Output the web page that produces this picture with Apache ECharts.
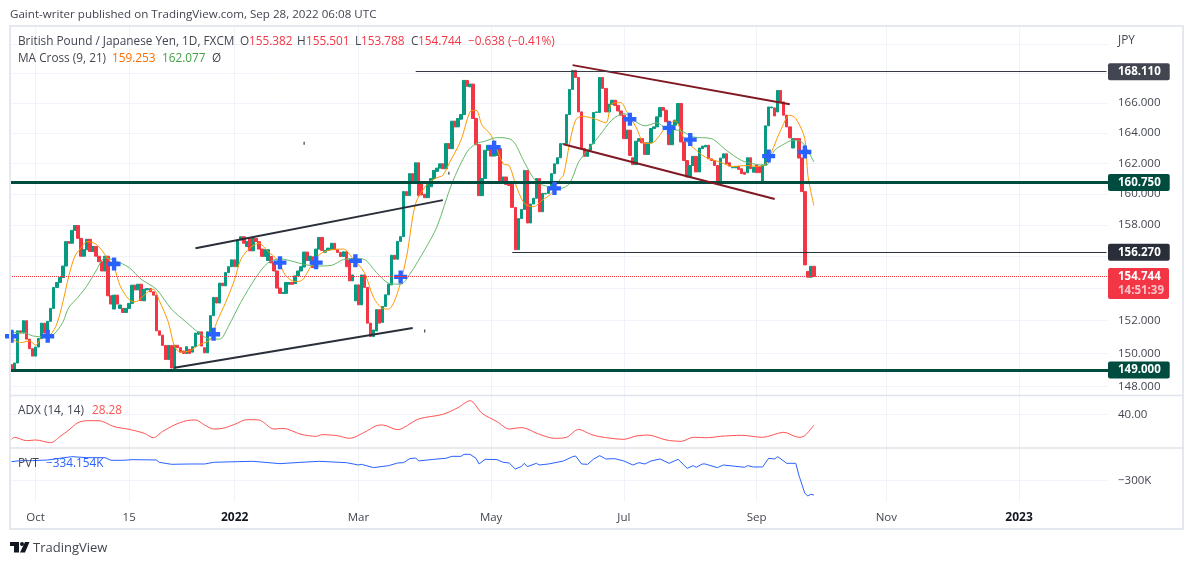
<!DOCTYPE html>
<html>
<head>
<meta charset="utf-8">
<style>html,body{margin:0;padding:0;background:#fff}#chart{width:1194px;height:565px}</style>
<script src="https://cdn.jsdelivr.net/npm/echarts@6/dist/echarts.min.js"></script>
</head>
<body>
<div id="chart"></div>
<script>
// candle bodies, one per trading day from 2021-09-21
var opens = [149.32,149.01,149.42,151.38,151.24,152.0,150.87,150.29,149.84,150.39,150.91,151.85,151.24,151.96,152.76,154.06,154.37,154.68,155.40,156.94,156.84,157.66,157.97,157.15,156.02,156.43,157.09,156.32,156.63,156.02,155.67,155.09,156.02,153.54,152.72,153.58,152.76,152.76,152.51,152.76,153.07,154.2,153.91,154.26,153.23,153.91,153.99,153.79,153.58,151.38,151.11,150.49,149.63,150.49,149.01,150.50,150.35,150.15,150.0,150.25,150.08,150.41,151.17,151.32,150.35,150.04,151.32,152.31,153.44,153.09,154.33,154.16,154.99,155.36,155.79,155.36,157.05,157.25,156.63,157.15,156.36,157.15,156.94,156.47,156.01,155.75,156.0,155.6,155.09,154.02,153.69,153.69,154.26,154.37,154.3,154.78,155.09,155.34,156.28,155.75,155.98,155.3,156.47,157.21,156.27,156.39,156.43,156.84,156.43,156.26,156.0,156.3,155.77,154.47,153.23,154.22,152.98,154.84,154.06,151.85,151.03,151.37,152.68,151.9,152.88,153.6,154.22,156.08,155.83,156.96,157.26,160.15,159.89,161.32,160.79,162.03,160.79,159.98,159.76,160.47,161.0,161.47,161.68,161.96,161.64,163.29,162.96,164.78,164.4,164.91,165.22,167.52,167.09,167.27,164.96,163.22,159.89,161.0,162.85,163.18,162.47,162.51,162.96,160.79,161.1,160.62,160.62,159.13,156.43,158.41,159.0,161.53,158.13,159.35,159.72,161.0,158.85,160.0,160.04,160.47,161.32,161.96,162.36,163.25,163.29,165.22,166.91,168.2,167.72,165.4,162.96,162.45,162.85,163.29,165.36,165.36,167.72,166.98,165.4,165.91,166.18,165.84,165.46,165.18,163.62,164.18,162.36,161.91,163.45,163.62,163.34,162.58,163.34,164.29,164.4,165.07,165.69,165.51,164.78,163.22,164.51,164.62,165.96,163.40,162.18,161.1,161.85,162.45,161.43,162.96,163.07,163.18,162.29,162.18,161.85,160.62,162.34,162.62,162.03,161.70,161.7,161.79,161.64,161.41,161.38,162.36,161.41,161.89,161.79,160.75,161.89,164.47,165.67,165.67,165.4,166.84,166.07,165.18,164.4,163.0,163.62,163.62,162.34,160.15,155.06,154.7,155.382];
var closes = [149.01,149.42,151.38,151.24,152.0,150.87,150.29,149.84,150.39,150.91,151.85,151.24,151.96,152.76,154.06,154.37,154.68,155.40,156.94,156.84,157.66,157.97,157.15,156.02,156.43,157.09,156.32,156.63,156.02,155.67,155.09,156.02,153.54,153.03,153.58,153.03,152.97,152.51,152.76,153.07,154.2,153.91,154.26,153.24,153.95,153.99,153.79,153.58,151.38,151.11,150.49,149.63,150.49,149.12,150.50,150.35,150.08,150.0,150.41,150.0,150.41,151.24,151.32,150.45,150.04,151.32,152.31,153.44,153.09,154.33,154.16,154.99,155.36,155.79,155.36,157.05,157.25,156.84,156.94,156.36,157.19,156.94,156.47,156.01,156.43,156.43,155.6,155.09,154.02,153.69,153.75,154.37,154.37,154.26,154.78,155.09,155.36,156.28,155.75,156.02,155.3,156.47,157.21,156.39,156.39,156.53,156.84,156.43,156.26,156.0,156.3,155.36,154.47,154.84,154.22,152.98,154.84,154.06,151.85,151.03,151.43,152.68,151.85,152.88,153.6,154.27,156.08,155.83,156.96,157.26,160.15,159.89,161.32,160.79,162.03,159.89,159.93,159.76,160.68,161.0,161.53,161.68,161.96,161.64,163.29,162.96,164.78,164.4,164.96,165.22,167.52,167.13,167.27,164.96,163.22,159.89,161.0,162.85,163.18,162.47,163.45,162.96,160.79,161.1,160.62,160.55,159.13,156.43,158.41,159.0,161.53,158.13,159.35,159.72,161.0,158.85,160.04,160.04,160.47,161.32,161.96,162.36,163.29,163.29,165.22,166.91,168.2,167.72,165.4,162.96,162.45,162.85,163.25,165.36,165.4,167.72,166.98,165.4,165.91,166.18,165.84,165.46,165.18,163.62,164.18,162.51,161.91,163.45,163.62,163.34,162.58,163.34,164.29,164.4,165.07,165.69,165.51,164.74,163.22,164.51,164.85,165.96,163.40,162.18,161.1,161.85,162.45,161.43,163.0,163.13,163.18,162.29,162.18,161.85,160.62,162.34,162.62,161.96,161.81,161.74,161.79,161.6,161.32,161.28,162.36,161.64,161.74,161.38,161.38,161.89,164.47,165.73,165.73,165.13,166.84,166.07,165.18,164.4,163.67,163.62,163.56,162.34,160.15,155.47,154.7,155.38,154.744];

// moving averages and indicators as [bar, value] read at their visible bends
var ma9 = [[0,150.87],[3,150.66],[6,150.76],[8,150.5],[10,150.97],[13,151.17],[15,151.79],[17,153.13],[19,154.78],[21,156.02],[23,156.53],[25,156.94],[28,156.78],[31,156.12],[34,155.3],[36,154.16],[39,153.3],[41,153.17],[45,153.75],[47,153.95],[49,153.24],[52,151.9],[54,150.45],[56,150.08],[59,150.15],[62,150.5],[66,150.87],[68,151.9],[71,153.13],[74,154.57],[76,155.81],[79,156.53],[82,156.84],[85,156.32],[88,155.81],[91,154.78],[94,154.43],[96,154.47],[99,155.3],[102,156.12],[106,156.43],[110,156.47],[113,155.91],[117,154.99],[120,153.44],[123,152.76],[125,152.72],[128,153.75],[131,156.02],[134,159.39],[138,160.68],[141,161.05],[143,161.21],[145,161.96],[149,163.51],[152,165.4],[154,165.51],[156,164.51],[159,163.84],[163,161.96],[165,161.85],[167,160.68],[170,159.39],[173,159.18],[176,159.6],[179,160.04],[182,161.0],[183,161.21],[185,163.29],[187,164.85],[189,165.11],[193,164.96],[197,164.67],[199,165.96],[202,166.02],[204,165.4],[207,164.4],[210,163.29],[213,163.40],[217,164.4],[220,164.8],[223,163.62],[227,162.85],[230,162.40],[235,162.07],[239,161.79],[244,161.85],[247,161.79],[250,161.96],[255,164.18],[258,165.18],[260,164.96],[263,163.62],[264,161.21],[266,159.253]];
var ma21 = [[0,151.28],[4,151.28],[7,151.07],[11,151.01],[14,151.17],[17,151.9],[19,152.82],[22,153.44],[25,154.16],[28,155.09],[31,155.91],[34,155.77],[39,155.3],[43,154.57],[48,153.95],[53,152.72],[58,151.9],[62,151.28],[66,150.87],[69,150.87],[72,151.69],[76,153.13],[81,154.68],[85,155.6],[89,155.85],[93,155.71],[97,155.5],[101,155.4],[106,155.44],[110,155.81],[114,155.87],[117,155.81],[121,154.99],[125,154.33],[129,154.26],[132,154.88],[137,156.43],[141,157.87],[146,160.68],[151,162.74],[154,163.29],[157,163.45],[161,163.69],[166,163.51],[170,162.07],[174,160.79],[178,160.47],[182,160.36],[185,160.68],[188,162.07],[191,162.85],[195,163.84],[199,164.85],[203,165.29],[207,164.74],[210,164.47],[214,164.67],[217,164.29],[222,164.13],[226,163.73],[232,163.62],[237,162.85],[242,162.18],[246,161.96],[250,161.85],[253,162.85],[256,163.25],[259,163.51],[262,163.40],[266,162.077]];
var adx = [[0,12.6],[1,14.8],[5,11.1],[8,11.9],[13,8.9],[16,15.5],[19,22.8],[22,30.8],[25,33.0],[29,33.0],[34,26.5],[39,23.5],[44,19.2],[47,14.4],[50,21.0],[54,28.3],[58,33.0],[61,33.8],[64,28.3],[67,23.9],[70,24.6],[74,29.0],[78,34.1],[82,33.8],[87,23.9],[90,24.6],[96,18.1],[101,15.9],[103,17.7],[108,16.6],[112,13.7],[117,20.3],[121,27.6],[123,28.3],[128,23.2],[130,25.4],[135,34.9],[143,39.97],[148,47.3],[152,54.9],[156,41.1],[161,31.9],[165,23.9],[169,25.4],[175,18.1],[180,13.7],[184,14.8],[188,23.5],[192,18.1],[195,15.5],[203,12.6],[207,16.2],[211,17.3],[217,11.9],[222,10.4],[226,14.8],[231,14.4],[235,15.9],[242,17.0],[249,14.8],[256,20.3],[261,14.8],[263,16.6],[266,28.28]];
var pvt = [[0,-254.5],[3,-252.1],[7,-252.1],[12,-250.5],[16,-246.5],[20,-242.6],[25,-245],[31,-245],[33,-251.3],[37,-251.3],[40,-249.7],[48,-250.5],[49,-256.1],[53,-260.9],[59,-260.1],[64,-260.1],[67,-256.1],[75,-254.5],[80,-253.7],[89,-259.3],[96,-256.1],[102,-253.7],[111,-256.9],[115,-262.5],[116,-260.9],[120,-268.8],[125,-264.1],[128,-257.7],[130,-256.9],[132,-247.3],[134,-245.7],[135,-252.9],[140,-248.9],[144,-246.5],[146,-241.8],[149,-241.8],[150,-237],[152,-237],[154,-246.5],[155,-260.1],[157,-248.9],[161,-249.7],[163,-256.1],[165,-257.7],[167,-272],[169,-266.4],[170,-258.5],[171,-266.4],[174,-258.5],[175,-262.5],[178,-260.1],[183,-252.9],[186,-242.6],[187,-241],[189,-260.1],[191,-260.9],[193,-248.1],[195,-240.2],[197,-248.1],[200,-247.3],[203,-252.9],[206,-262.5],[208,-256.9],[210,-260.1],[212,-252.9],[215,-248.1],[218,-258.5],[221,-248.9],[224,-270.4],[226,-264.1],[227,-268],[229,-260.1],[230,-260.1],[234,-268.8],[236,-262.5],[243,-268],[244,-264.1],[246,-267.2],[249,-267.2],[251,-246.5],[253,-248.1],[254,-242.6],[257,-258.5],[260,-258.5],[261,-286.3],[263,-330.1],[264,-336.5],[265,-332.5],[266,-334.154]];

// MA cross markers and the small stray marks
var crosses = [[0,151.05],[12,151.05],[34,155.53],[67,151.17],[89,155.61],[101,155.61],[114,155.73],[129,154.72],[160,163.05],[180,160.36],[205,164.91],[218,164.33],[225,163.56],[251,162.47],[263,162.74]];
var specks = [[97,163.31],[145,161.34],[137,151.37]];

// drawn lines
var channelUp = [[[61,156.52],[143,159.6]],[[54,149.13],[133,151.55]]];
var channelDown = [[[186,168.56],[258,165.91]],[[183,163.25],[253,159.67]]];
var partLevels = [[134,168.11,'#363a45'],[166,156.27,'#2a2e39']];
var supportLevels = [160.75,149];

// axes
var priceTicks = [148,150,152,154,156,158,160,162,164,166,168,170];
var priceLabels = [148,150,152,158,160,162,164,166];
var tickDates = ['2021-10-01','2021-11-15','2022-01-03','2022-03-01','2022-05-02','2022-07-01','2022-09-01','2022-11-01','2023-01-02'];
var tickLabels = ['Oct','15','2022','Mar','May','Jul','Sep','Nov','2023'];

var UP = '#089981', DOWN = '#f23645', GRID = '#f0f3fa', FONT = '"Open Sans","Noto Sans",sans-serif';
var BAND_COUNT = 364;

// weekdays from the first bar on, the axis runs on past the last bar
var days = [];
var d = new Date(Date.UTC(2021, 8, 21));
while (days.length < BAND_COUNT) {
    if (d.getUTCDay() != 0 && d.getUTCDay() != 6) days.push(d.toISOString().slice(0, 10));
    d.setUTCDate(d.getUTCDate() + 1);
}
var candles = opens.map(function(o, i) {
    return [o, closes[i], Math.min(o, closes[i]), Math.max(o, closes[i])];
});
function isTick(index, value) { return tickDates.indexOf(value) >= 0; }

function xAxis(gridIndex, withLabels) {
    return {
        type: 'category', gridIndex: gridIndex, data: days, boundaryGap: true,
        axisLine: {show: false},
        axisTick: {show: false, interval: isTick, alignWithLabel: true},
        splitLine: {show: true, interval: isTick, alignWithLabel: true, lineStyle: {color: GRID, width: 1}},
        axisLabel: {
            show: withLabels, interval: isTick, margin: 10, fontFamily: FONT, fontSize: 11.5, color: '#434651', hideOverlap: false,
            formatter: function(v) {
                var t = tickLabels[tickDates.indexOf(v)];
                return /^20/.test(t) ? '{b|' + t + '}' : t;
            },
            rich: {b: {fontFamily: FONT, fontSize: 12, fontWeight: 'bold', color: '#131722'}}
        }
    };
}
function yAxis(gridIndex, extra) {
    var base = {
        gridIndex: gridIndex, position: 'right', scale: true,
        axisLine: {show: false},
        splitLine: {show: true, lineStyle: {color: GRID, width: 1}}
    };
    for (var k in extra) base[k] = extra[k];
    return base;
}
function lineSeries(name, data, color, width, axis, z, extra) {
    var s = {
        type: 'line', name: name, data: data, xAxisIndex: axis, yAxisIndex: axis,
        symbol: 'none', silent: true, animation: false, z: z,
        lineStyle: {color: color, width: width}
    };
    for (var k in extra) s[k] = extra[k];
    return s;
}
function tag(price, text, bg) {
    return {
        yAxis: price, lineStyle: {color: 'rgba(0,0,0,0)', opacity: 1},
        label: {
            show: true, position: 'end', distance: 0, formatter: text,
            color: '#fff', fontFamily: FONT, fontSize: 11.5, fontWeight: 'bold',
            backgroundColor: bg, padding: [3, 9, 2, 10], borderRadius: 2
        }
    };
}
function txt(x, y, text, color, extra) {
    var style = {x: x, y: y, text: text, fill: color || '#434651', font: '11.8px ' + FONT, textVerticalAlign: 'middle'};
    for (var k in extra) style[k] = extra[k];
    return {type: 'text', z: 20, silent: true, style: style};
}

var levelLines = partLevels.map(function(l) {
    return [
        {coord: [l[0], l[1]], lineStyle: {color: l[2], width: 1, type: 'solid', opacity: 1}, label: {show: false}},
        {coord: [363, l[1]]}
    ];
});

var series = [
    {
        type: 'candlestick', name: 'GBPJPY', data: candles, xAxisIndex: 0, yAxisIndex: 0, barWidth: 3,
        silent: true, animation: false, z: 3,
        itemStyle: {color: UP, color0: DOWN, borderColor: UP, borderColor0: DOWN, borderWidth: 1},
        markLine: {
            silent: true, symbol: 'none', animation: false, precision: 3, z: 8,
            data: [
                tag(168.11, '168.110', '#434651'),
                tag(156.27, '156.270', '#2a2e39'),
                tag(160.75, '160.750', '#004d40'),
                tag(149, '149.000', '#004d40'),
                {
                    yAxis: 154.744, lineStyle: {color: DOWN, type: 'dotted', width: 1, opacity: 1},
                    label: {
                        show: true, position: 'end', distance: 0, offset: [0, 7],
                        formatter: '{p|154.744}\n{t|14:51:39}',
                        backgroundColor: DOWN, padding: [2, 5, 1, 10], borderRadius: 2,
                        rich: {
                            p: {color: '#fff', fontFamily: FONT, fontSize: 11.5, fontWeight: 'bold', lineHeight: 14},
                            t: {color: '#fbc2c7', fontFamily: FONT, fontSize: 11.5, fontWeight: 'bold', lineHeight: 14}
                        }
                    }
                }
            ].concat(levelLines)
        }
    },
    lineSeries('MA 9', ma9, '#ff9800', 1, 0, 4, {smooth: 0.3}),
    lineSeries('MA 21', ma21, '#66bb6a', 1, 0, 4, {smooth: 0.3}),
    lineSeries('ADX', adx, '#ff5252', 1, 1, 4, {smooth: 0.3}),
    lineSeries('PVT', pvt, '#2962ff', 1, 2, 4),
    {
        type: 'scatter', name: 'Cross', data: crosses, xAxisIndex: 0, yAxisIndex: 0, silent: true, animation: false, z: 7,
        symbol: 'path://M4,0H8V4H12V8H8V12H4V8H0V4H4Z', symbolSize: 13, itemStyle: {color: '#2962ff', opacity: 1}
    },
    {
        type: 'scatter', name: 'Specks', data: specks, xAxisIndex: 0, yAxisIndex: 0, silent: true, animation: false, z: 7,
        symbol: 'rect', symbolSize: [1, 3], itemStyle: {color: '#131722', opacity: 1}
    }
];
supportLevels.forEach(function(p) {
    series.push({
        type: 'line', data: [], xAxisIndex: 0, yAxisIndex: 0, silent: true, animation: false, z: 6,
        markLine: {silent: true, symbol: 'none', animation: false, label: {show: false},
            lineStyle: {color: '#004d40', width: 3, type: 'solid'}, data: [{yAxis: p}]}
    });
});
channelUp.forEach(function(l) { series.push(lineSeries('channel', l, '#2a2e39', 2, 0, 5)); });
channelDown.forEach(function(l) { series.push(lineSeries('channel', l, '#801922', 2, 0, 5)); });

var chart = echarts.init(document.getElementById('chart'), null, {renderer: 'canvas'});
chart.setOption({
    animation: false,
    backgroundColor: '#fff',
    grid: [
        {left: 10, width: 1098, top: 27, height: 368.5},
        {left: 10, width: 1098, top: 395.5, height: 52.5},
        {left: 10, width: 1098, top: 448, height: 54}
    ],
    xAxis: [xAxis(0, false), xAxis(1, false), xAxis(2, true)],
    yAxis: [
        yAxis(0, {
            type: 'log', logBase: Math.E, min: 147.47, max: 171.18,
            axisTick: {show: false, customValues: priceTicks},
            axisLabel: {customValues: priceLabels, margin: 10, fontFamily: FONT, fontSize: 11.5, color: '#434651',
                formatter: function(v) { return Number(v).toFixed(3); }}
        }),
        yAxis(1, {
            type: 'value', min: 3.1, max: 60.6,
            axisTick: {show: false, customValues: [40]},
            axisLabel: {customValues: [40], margin: 10, fontFamily: FONT, fontSize: 11.5, color: '#434651',
                formatter: function(v) { return Number(v).toFixed(2); }}
        }),
        yAxis(2, {
            type: 'value', min: -350.9, max: -221.9,
            axisTick: {show: false, customValues: [-300]},
            axisLabel: {customValues: [-300], margin: 10, fontFamily: FONT, fontSize: 11.5, color: '#434651',
                formatter: function(v) { return '\u2212' + Math.abs(v) + 'K'; }}
        })
    ],
    series: series,
    graphic: [
        {type: 'rect', z: 10, silent: true, shape: {x: 10, y: 26, width: 1173, height: 503},
            style: {fill: 'none', stroke: '#e6e8f0', lineWidth: 2}},
        {type: 'line', z: 10, silent: true, shape: {x1: 10, y1: 395.5, x2: 1183, y2: 395.5}, style: {stroke: '#e0e3eb', lineWidth: 1.5}},
        {type: 'line', z: 10, silent: true, shape: {x1: 10, y1: 448, x2: 1183, y2: 448}, style: {stroke: '#e0e3eb', lineWidth: 1.5}},
        txt(10, 15, 'Gaint-writer published on TradingView.com, Sep 28, 2022 06:08 UTC', '#434651', {font: '11.6px ' + FONT}),
        txt(18, 42, 'British Pound / Japanese Yen, 1D, FXCM'),
        txt(240, 42, 'O'), txt(249, 42, '155.382', DOWN),
        txt(297, 42, 'H'), txt(306, 42, '155.501', DOWN),
        txt(355, 42, 'L'), txt(361, 42, '153.788', DOWN),
        txt(411, 42, 'C'), txt(418, 42, '154.744', DOWN),
        txt(468, 42, '\u22120.638 (\u22120.41%)', DOWN),
        txt(18, 59, 'MA Cross (9, 21)'),
        txt(112, 59, '159.253', '#ff6d00'), txt(162, 59, '162.077', '#43a047'), txt(212, 59, '\u00d8'),
        txt(18, 411, 'ADX (14, 14)'), txt(92, 411, '28.28', '#ff5252'),
        txt(18, 464, 'PVT'), txt(46, 464, '\u2212334.154K', '#2962ff'),
        txt(1118, 41, 'JPY'),
        // TradingView mark
        {type: 'polygon', z: 20, silent: true, shape: {points: [[10,542],[19,542],[19,552.5],[14,552.5],[14,546],[10,546]]}, style: {fill: '#131722'}},
        {type: 'circle', z: 20, silent: true, shape: {cx: 22, cy: 544, r: 2}, style: {fill: '#131722'}},
        {type: 'polygon', z: 20, silent: true, shape: {points: [[25,542],[29.5,542],[25,552.5],[20,552.5]]}, style: {fill: '#131722'}},
        txt(33, 548, 'TradingView', '#434651', {font: '13px ' + FONT})
    ]
});
</script>
</body>
</html>
